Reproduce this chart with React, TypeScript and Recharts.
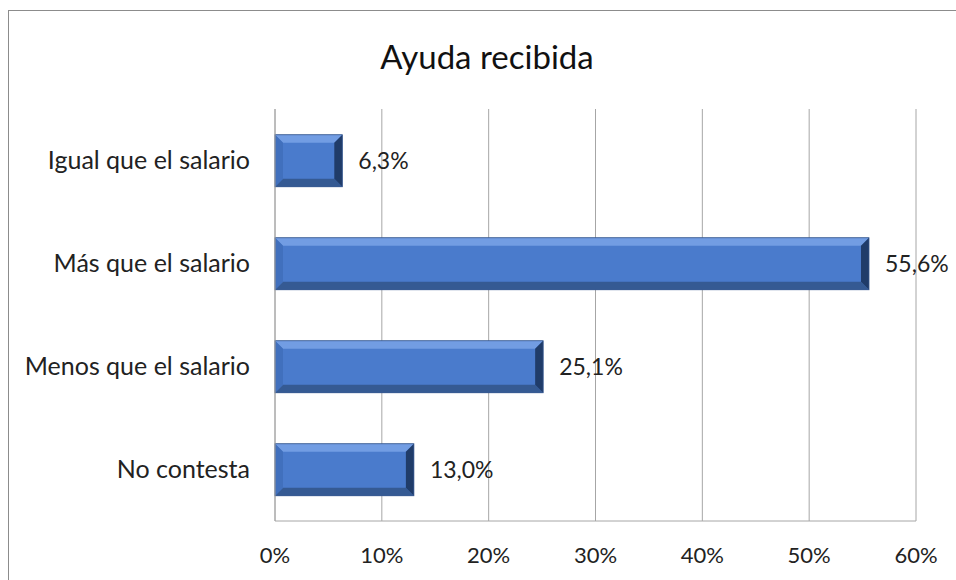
import { BarChart, Bar, XAxis, YAxis, CartesianGrid, LabelList } from 'recharts'

const categories = ['Igual que el salario', 'Más que el salario', 'Menos que el salario', 'No contesta']
const values = [6.3, 55.6, 25.1, 13.0]
const xTicks = [0, 10, 20, 30, 40, 50, 60]

const data = categories.map((name, i) => ({ name, value: values[i] }))

const FONT = 'Lato, "Open Sans", sans-serif'

// bevelled bar like the Excel 3D-ish style
function BevelBar(props: any) {
  const { x, y, width, height } = props
  if (!width || width <= 0) return null
  const b = Math.min(8, width / 2, height / 2)
  const x2 = x + width
  const y2 = y + height
  return (
    <g>
      <rect x={x} y={y} width={width} height={height} fill="#4a7bcc" />
      {/* top */}
      <polygon points={`${x},${y} ${x2},${y} ${x2 - b},${y + b} ${x + b},${y + b}`} fill="#729de3" />
      {/* bottom */}
      <polygon points={`${x},${y2} ${x2},${y2} ${x2 - b},${y2 - b} ${x + b},${y2 - b}`} fill="#355a93" />
      {/* left */}
      <polygon points={`${x},${y} ${x + b},${y + b} ${x + b},${y2 - b} ${x},${y2}`} fill="#4170bd" />
      {/* right */}
      <polygon points={`${x2},${y} ${x2 - b},${y + b} ${x2 - b},${y2 - b} ${x2},${y2}`} fill="#203c69" />
      <rect x={x} y={y} width={width} height={height} fill="none" stroke="#34548a" strokeWidth={0.8} />
    </g>
  )
}

export default function App() {
  return (
    <div style={{ position: 'absolute', left: 0, top: 0, width: 956, height: 580, background: '#fff', overflow: 'hidden' }}>
      <div style={{ position: 'absolute', left: 8, top: 10, width: 960, height: 600, border: '1px solid #8c8c8c' }} />
      <div
        style={{
          position: 'absolute',
          left: 0,
          width: 974,
          top: 36,
          textAlign: 'center',
          fontFamily: FONT,
          fontSize: 33,
          lineHeight: '40px',
          color: '#111',
        }}
      >
        Ayuda recibida
      </div>
      <div style={{ position: 'absolute', left: 0, top: 0 }}>
        <BarChart
          width={956}
          height={580}
          data={data}
          layout="vertical"
          margin={{ top: 109, right: 40, bottom: 0, left: 15 }}
          barCategoryGap="25%"
        >
          <CartesianGrid horizontal={false} stroke="#a6a6a6" />
          <XAxis
            type="number"
            domain={[0, 60]}
            ticks={xTicks}
            tickFormatter={(v: number) => `${v}%`}
            axisLine={{ stroke: '#a6a6a6' }}
            tickLine={false}
            tickSize={0}
            tickMargin={26}
            height={59}
            tick={{ fill: '#222', fontSize: 22, fontFamily: FONT }}
            interval={0}
          />
          <YAxis
            type="category"
            dataKey="name"
            width={260}
            axisLine={{ stroke: '#a6a6a6' }}
            tickLine={false}
            tickSize={0}
            tickMargin={25}
            tick={{ fill: '#222', fontSize: 25, fontFamily: FONT }}
          />
          <Bar dataKey="value" shape={<BevelBar />} isAnimationActive={false}>
            <LabelList
              dataKey="value"
              position="right"
              offset={16}
              formatter={(v: any) => `${Number(v).toFixed(1).replace('.', ',')}%`}
              style={{ fill: '#222', fontSize: 23, fontFamily: FONT }}
            />
          </Bar>
        </BarChart>
      </div>
    </div>
  )
}
